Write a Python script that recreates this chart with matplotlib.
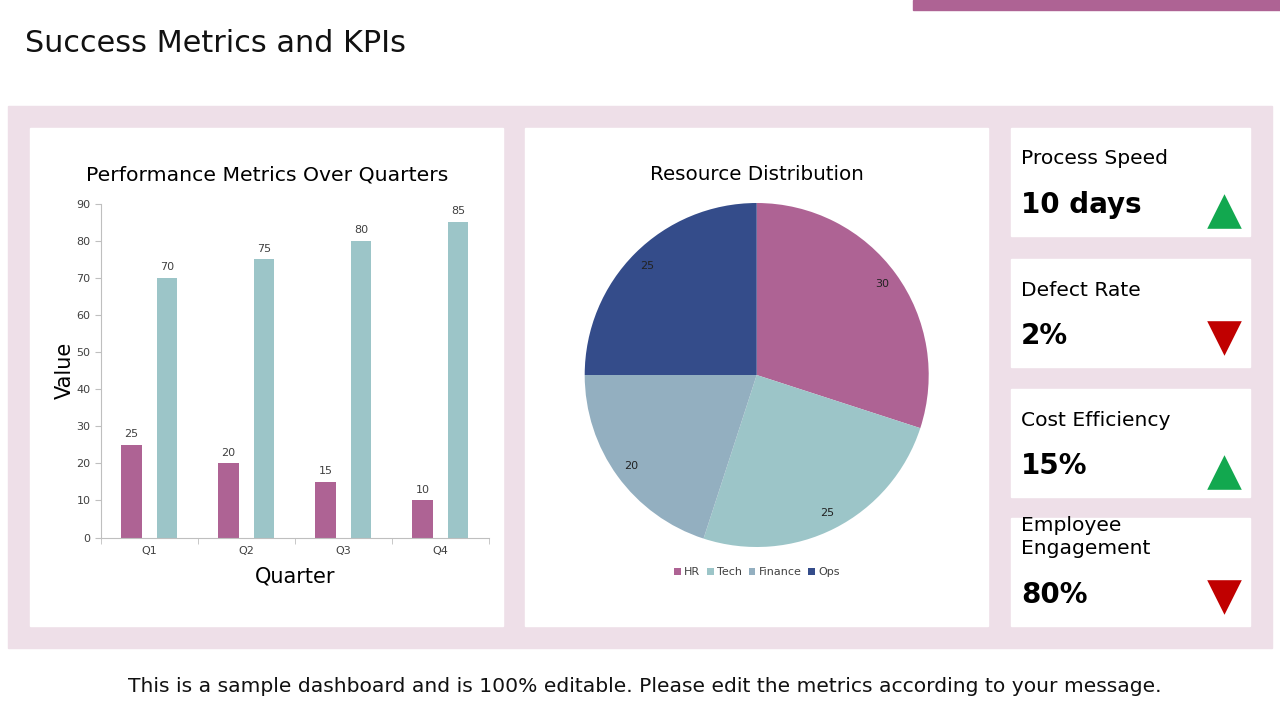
import numpy as np
import matplotlib.pyplot as plt
from matplotlib.patches import Rectangle

plt.rcParams['font.family'] = ['DejaVu Sans']

# Bar chart data
quarters = ["Q1", "Q2", "Q3", "Q4"]
series_a = [25, 20, 15, 10]
series_b = [70, 75, 80, 85]

# Pie chart data
departments = ["HR", "Tech", "Finance", "Ops"]
resources = [30, 25, 20, 25]

# KPI cards
kpi_labels = ["Process Speed", "Defect Rate", "Cost Efficiency", "Employee\nEngagement"]
kpi_values = ["10 days", "2%", "15%", "80%"]
kpi_trend = ["up", "down", "up", "down"]

mauve = "#AE6394"
teal = "#9CC5C8"
steel = "#93AFC0"
navy = "#344C8A"
panel_bg = "#EEDFE8"
grey = "#BFBFBF"

fig = plt.figure(figsize=(12.8, 7.2), dpi=100)
fig.patch.set_facecolor("white")

# background layer in pixel coords
bg = fig.add_axes([0, 0, 1, 1], zorder=-1)
bg.set_xlim(0, 1280)
bg.set_ylim(720, 0)
bg.axis("off")

bg.add_patch(Rectangle((913, 0), 367, 10, color=mauve))
bg.add_patch(Rectangle((8, 106), 1264, 542, color=panel_bg))
bg.add_patch(Rectangle((30, 128), 473, 498, color="white"))
bg.add_patch(Rectangle((525, 128), 463, 498, color="white"))

bg.text(25, 44, "Success Metrics and KPIs", fontsize=21.8, va="center", ha="left", color="#111111")
bg.text(645, 686, "This is a sample dashboard and is 100% editable. Please edit the metrics according to your message.",
        fontsize=14.6, ha="center", va="center", color="#111111")

card_tops = [128, 259, 389, 518]
for i in range(len(kpi_labels)):
    top = card_tops[i]
    bg.add_patch(Rectangle((1011, top), 239, 108, color="white"))
    if "\n" in kpi_labels[i]:
        bg.text(1021, top + 19, kpi_labels[i], fontsize=14.6, va="center", ha="left", linespacing=1.3)
    else:
        bg.text(1021, top + 31, kpi_labels[i], fontsize=14.6, va="center", ha="left")
    bg.text(1021, top + 77, kpi_values[i], fontsize=20, fontweight="bold", va="center", ha="left")
    if kpi_trend[i] == "up":
        bg.scatter([1224], [top + 83], marker="^", s=620, color="#12A84F", linewidths=0)
    else:
        bg.scatter([1224], [top + 79], marker="v", s=620, color="#C00000", linewidths=0)

# Bar chart
ax = fig.add_axes([101 / 1280, 1 - 537.5 / 720, 388 / 1280, 334 / 720])
x = np.arange(len(quarters))
w = 0.215
b1 = ax.bar(x - 0.185, series_a, w, color=mauve)
b2 = ax.bar(x + 0.18, series_b, w, color=teal)
ax.bar_label(b1, padding=4, fontsize=8, color="#404040")
ax.bar_label(b2, padding=4, fontsize=8, color="#404040")
ax.set_xlim(-0.5, 3.5)
ax.set_ylim(0, 90)
ax.set_yticks(range(0, 91, 10))
ax.set_xticks(x)
ax.set_xticklabels(quarters)
ax.set_xticks(np.arange(-0.5, 4, 1), minor=True)
ax.tick_params(axis="x", which="major", length=0, labelsize=8, labelcolor="#404040", pad=6)
ax.tick_params(axis="x", which="minor", length=4, color=grey)
ax.tick_params(axis="y", length=4, color=grey, labelsize=8, labelcolor="#404040")
for s in ["top", "right"]:
    ax.spines[s].set_visible(False)
ax.spines["left"].set_color(grey)
ax.spines["bottom"].set_color(grey)
ax.set_ylabel("Value", fontsize=15, labelpad=1)
ax.set_xlabel("Quarter", fontsize=15, labelpad=8)
fig.text(267 / 1280, 1 - 175 / 720, "Performance Metrics Over Quarters", fontsize=14.7, ha="center", va="center")

# Pie chart
pax = fig.add_axes([584.7 / 1280, 1 - 547 / 720, 344 / 1280, 344 / 720])
total = sum(resources)
wedges, texts, autotexts = pax.pie(resources, colors=[mauve, teal, steel, navy], startangle=90,
                                   counterclock=False, autopct=lambda p: f"{p * total / 100:.0f}",
                                   pctdistance=0.9, textprops={"fontsize": 8, "color": "#222222"})
pax.set_xlim(-1, 1)
pax.set_ylim(-1, 1)
pax.set_aspect("equal")
fig.text(757 / 1280, 1 - 175 / 720, "Resource Distribution", fontsize=14.3, ha="center", va="center")
fig.legend(wedges, departments, loc="center", bbox_to_anchor=(757 / 1280, 1 - 572 / 720), ncol=4,
           frameon=False, fontsize=8, handlelength=0.6, handleheight=0.6, handletextpad=0.3,
           columnspacing=0.6, labelcolor="#404040")

plt.savefig("out.png", dpi=100)
